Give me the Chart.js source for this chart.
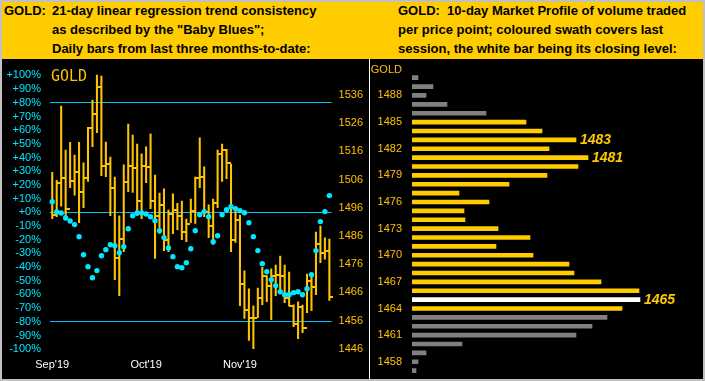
<!DOCTYPE html>
<html><head><meta charset="utf-8">
<script src="https://cdn.jsdelivr.net/npm/chart.js@4.4.1/dist/chart.umd.min.js"></script>
<style>
html,body{margin:0;padding:0;background:#c0c0c0;}
#wrap{position:relative;width:705px;height:381px;overflow:hidden;background:#c0c0c0;font-family:"Liberation Sans",Arial,sans-serif;}
#hdr{position:absolute;left:2px;top:2px;width:701px;height:57px;background:#ffcc00;}
.ht{position:absolute;font-weight:bold;font-size:13px;line-height:15px;color:#000;white-space:pre;}
#lp{position:absolute;left:2px;top:59px;width:367px;height:320px;background:#000;}
#rp{position:absolute;left:370px;top:59px;width:333px;height:320px;background:#000;}
#sep{position:absolute;left:369px;top:59px;width:1px;height:320px;background:#fff;}
#gl{position:absolute;left:51px;top:68px;font-family:"DejaVu Sans Mono",monospace;font-size:15px;line-height:16px;color:#ffc000;}
#gr{position:absolute;left:362px;width:40px;text-align:right;top:62px;font-size:11px;line-height:14px;color:#ffc000;}
canvas{position:absolute;}
</style></head>
<body><div id="wrap">
<div id="hdr"></div>
<div class="ht" style="left:4px;top:3px">GOLD:</div>
<div class="ht" style="left:52px;top:3px">21-day linear regression trend consistency</div>
<div class="ht" style="left:52px;top:22px">as described by the "Baby Blues";</div>
<div class="ht" style="left:52px;top:41px">Daily bars from last three months-to-date:</div>
<div class="ht" style="left:398px;top:3px">GOLD:  10-day Market Profile of volume traded</div>
<div class="ht" style="left:398px;top:22px">per price point; coloured swath covers last</div>
<div class="ht" style="left:398px;top:41px">session, the white bar being its closing level:</div>
<div id="lp"></div><div id="rp"></div><div id="sep"></div>
<canvas id="c1" width="369" height="322" style="left:0;top:59px"></canvas>
<canvas id="c2" width="333" height="322" style="left:370px;top:59px"></canvas>
<div id="gl">GOLD</div>
<div id="gr">GOLD</div>
</div>
<script>
// ---------- left panel data ----------
const dates = ['09-10','09-11','09-12','09-13','09-16','09-17','09-18','09-19','09-20','09-23','09-24','09-25','09-26','09-27','09-30',
 '10-01','10-02','10-03','10-04','10-07','10-08','10-09','10-10','10-11','10-14','10-15','10-16','10-17','10-18','10-21','10-22','10-23','10-24','10-25','10-28','10-29','10-30','10-31',
 '11-01','11-04','11-05','11-06','11-07','11-08','11-11','11-12','11-13','11-14','11-15','11-18','11-19','11-20','11-21','11-22','11-25','11-26','11-27','11-29',
 '12-02','12-03','12-04','12-05','12-06'];
const highs = [1508.6,1505.7,1532.1,1516.5,1519.2,1514.7,1519.2,1511.9,1524.5,1534.2,
 1543.1,1542.7,1519.3,1514.0,1506.9,1493.1,1511.2,1525.7,1521.8,1518.6,
 1515.1,1517.6,1522.2,1507.6,1501.2,1502.7,1495.2,1500.9,1497.6,1498.4,
 1492.0,1499.1,1506.9,1520.8,1510.5,1497.0,1499.1,1516.5,1518.6,1516.7,
 1511.5,1495.6,1493.4,1473.6,1467.2,1461.2,1467.5,1474.9,1471.9,1474.3,
 1475.7,1478.9,1475.7,1473.2,1461.6,1462.6,1461.5,1472.5,1471.6,1487.4,
 1489.5,1485.3,1484.9];
const lows = [1492.1,1492.8,1496.6,1492.8,1503.1,1500.5,1490.7,1496.0,1505.3,1517.7,
 1522.6,1507.4,1507.0,1493.2,1470.5,1464.8,1480.4,1501.7,1501.4,1493.3,
 1492.1,1504.9,1495.7,1478.0,1486.9,1480.8,1480.4,1486.8,1488.2,1484.7,
 1484.0,1490.7,1490.4,1503.1,1492.8,1485.4,1483.0,1496.0,1505.3,1506.3,
 1480.4,1483.7,1461.3,1456.7,1448.9,1446.0,1457.0,1461.6,1462.7,1456.3,
 1464.8,1465.9,1462.3,1461.2,1453.8,1449.6,1451.7,1458.8,1459.5,1465.2,
 1476.5,1477.8,1463.1];
const closes = [1493.4,1504.9,1506.7,1495.7,1505.6,1508.8,1501.7,1506.4,1524.4,1529.4,
 1539.0,1510.9,1511.7,1503.1,1478.3,1485.0,1505.3,1510.9,1510.2,1498.5,
 1510.9,1510.6,1498.5,1493.2,1497.1,1484.7,1493.9,1495.3,1493.2,1487.5,
 1490.4,1495.0,1506.7,1507.0,1494.6,1489.7,1497.8,1515.2,1516.6,1512.0,
 1484.7,1491.8,1469.1,1459.6,1456.8,1456.8,1464.1,1471.9,1468.4,1471.9,
 1472.3,1471.9,1464.1,1461.3,1454.9,1460.9,1453.5,1470.1,1468.0,1483.3,
 1479.8,1480.8,1464.5];
const babyBlues = [7.8,0.2,-0.5,-4.2,-6.4,-9.0,-17.8,-31.0,-39.7,-47.8,
 -42.6,-31.7,-27.3,-23.7,-24.4,-29.5,-25.1,-12.0,-2.5,-0.5,
 -0.5,-1.2,-3.2,-6.1,-13.4,-18.5,-26.1,-32.4,-39.7,-40.5,
 -36.8,-26.6,-13.4,-1.7,0.5,-3.2,-21.5,-17.1,-1.7,1.9,
 4.1,2.7,1.2,-0.3,-7.6,-17.8,-28.0,-37.5,-43.4,-49.2,
 -53.6,-58.0,-60.2,-60.2,-58.7,-58.0,-60.2,-55.8,-45.6,-28.0,
 -6.8,0.5,12.2];
const pctTicks = [100,90,80,70,60,50,40,30,20,10,0,-10,-20,-30,-40,-50,-60,-70,-80,-90,-100];
const priceTicks = [1536,1526,1516,1506,1496,1486,1476,1466,1456,1446];
const refLevels = [80,0,-80];
const monthLabels = ["Sep'19","Oct'19","Nov'19"];
const monthLabelIdx = [0,21,42];

// ---------- right panel data ----------
const profilePrices = [1490,1489,1488,1487,1486,1485,1484,1483,1482,1481,1480,1479,1478,1477,1476,1475,1474,
 1473,1472,1471,1470,1469,1468,1467,1466,1465,1464,1463,1462,1461,1460,1459,1458,1457];
const profileVolume = [6,21,14,35,74,114,130,164,137,176,166,135,97,47,77,52,53,
 86,118,84,121,157,162,189,227,228,210,195,180,164,50,14,6,4];
const profileTickLabels = ['1488','1485','1482','1479','1476','1473','1470','1467','1464','1461','1458'];
const peakLabels = [1483,1481,1465];
const lastHigh = 1485, lastLow = 1464, lastClose = 1465;

// ---------- styles ----------
const FONT = '"Liberation Sans", Arial, sans-serif';
const BAR = '#ffc400';
const CYAN = '#00e8ff';
const LINE = '#00bfff';
const GOLDTXT = '#ffc000';

const closeTicks = {
  id:'closeTicks',
  afterDatasetDraw(chart, args){
    if(args.index !== 1) return;
    const {ctx, scales:{x, price}} = chart;
    ctx.save(); ctx.fillStyle = BAR;
    closes.forEach((c,i)=>{
      const px = x.getPixelForValue(i), py = price.getPixelForValue(c);
      ctx.fillRect(Math.round(px), Math.round(py)-1, 4, 2);
    });
    ctx.restore();
  }
};

new Chart(document.getElementById('c1'), {
  type:'bar',
  data:{labels:dates, datasets:[
    {type:'line', data:babyBlues, yAxisID:'pct', showLine:false, pointRadius:2.7, pointHoverRadius:2.7,
     pointBackgroundColor:CYAN, pointBorderWidth:0, order:0},
    {type:'bar', data:highs.map((h,i)=>[lows[i],h]), yAxisID:'price', backgroundColor:BAR,
     barThickness:1.4, borderWidth:0, order:1}
  ]},
  options:{
    responsive:false, animation:false, events:[],
    plugins:{legend:{display:false}, tooltip:{enabled:false}},
    layout:{padding:{top:5,left:0,right:0,bottom:0}},
    scales:{
      x:{offset:true, grid:{display:false, drawTicks:false}, border:{display:false},
         ticks:{autoSkip:false, maxRotation:0, minRotation:0, padding:2, color:'#ffffff', font:{family:FONT,size:11},
           callback:(v,i)=>{const k=monthLabelIdx.indexOf(i); return k>=0?monthLabels[k]:'';}},
         afterFit:s=>{s.height=25; s.paddingLeft=0; s.paddingRight=0;}},
      pct:{type:'linear', position:'left', min:-105.0, max:108.37,
         afterBuildTicks:s=>{s.ticks=pctTicks.map(v=>({value:v}));},
         grid:{color:c=>refLevels.includes(c.tick.value)?LINE:'rgba(0,0,0,0)', drawTicks:false, lineWidth:1},
         border:{display:false},
         ticks:{autoSkip:false, padding:9, color:CYAN, font:{family:FONT,size:11},
           callback:v=>v>0?'+'+v+'%':(v===0?'+0%':v+'%')},
         afterFit:s=>{s.width=50; s.paddingTop=0; s.paddingBottom=0;}},
      price:{type:'linear', position:'right', min:1443.41, max:1547.0,
         afterBuildTicks:s=>{s.ticks=priceTicks.map(v=>({value:v}));},
         grid:{display:false, drawTicks:false}, border:{display:false},
         ticks:{autoSkip:false, padding:7, color:GOLDTXT, font:{family:FONT,size:11}, callback:v=>String(v)},
         afterFit:s=>{s.width=37.4; s.paddingTop=0; s.paddingBottom=0;}}
    }
  },
  plugins:[closeTicks]
});

const peakLabelPlugin = {
  id:'peakLabels',
  afterDatasetsDraw(chart){
    const ctx = chart.ctx, meta = chart.getDatasetMeta(0);
    ctx.save();
    ctx.font = 'italic bold 14px ' + FONT;
    ctx.fillStyle = '#ffc800'; ctx.textBaseline = 'middle'; ctx.textAlign = 'left';
    profilePrices.forEach((p,i)=>{
      if(peakLabels.includes(p)){ const el = meta.data[i]; ctx.fillText(String(p), el.x+4, el.y+0.5); }
    });
    ctx.restore();
  }
};

new Chart(document.getElementById('c2'), {
  type:'bar',
  data:{labels:profilePrices.map(String), datasets:[{
    data:profileVolume,
    backgroundColor:profilePrices.map(p=>(p>lastHigh||p<lastLow)?'#808080':(p===lastClose?'#ffffff':'#ffcc00')),
    barThickness:4, borderWidth:0
  }]},
  options:{
    indexAxis:'y', responsive:false, animation:false, events:[],
    plugins:{legend:{display:false}, tooltip:{enabled:false}},
    layout:{padding:{top:14.26,bottom:5.9,left:0,right:0}},
    scales:{
      x:{display:false, min:0, max:291},
      y:{grid:{display:false, drawTicks:false}, border:{display:false},
         ticks:{autoSkip:false, padding:10, color:GOLDTXT, font:{family:FONT,size:11},
           callback:function(v){const l=this.getLabelForValue(v); return profileTickLabels.includes(l)?l:'';}},
         afterFit:s=>{s.width=42; s.paddingTop=0; s.paddingBottom=0;}}
    }
  },
  plugins:[peakLabelPlugin]
});
</script>
</body></html>
